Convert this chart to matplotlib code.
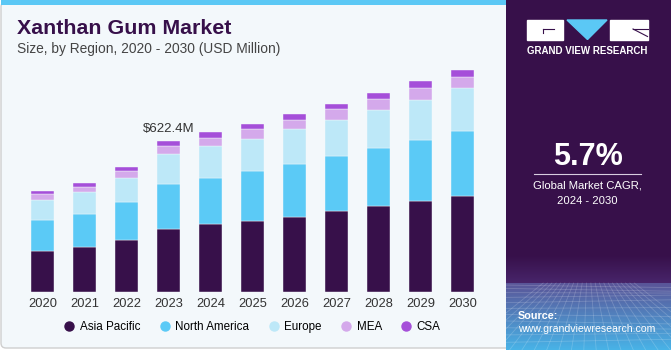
#!/usr/bin/env python3
"""Xanthan gum market size by region, stacked bars with side panel."""

import numpy as np
import matplotlib.pyplot as plt
from matplotlib.patches import FancyBboxPatch, Rectangle, Polygon
from matplotlib.lines import Line2D

plt.rcParams.update({
    "font.family": ["Liberation Sans", "DejaVu Sans"],
    "figure.dpi": 100,
})

years = ["2020", "2021", "2022", "2023", "2024", "2025",
         "2026", "2027", "2028", "2029", "2030"]
regions = ["Asia Pacific", "North America", "Europe", "MEA", "CSA"]
asia_pacific = [171, 188, 216, 260, 280, 292, 310, 334, 354, 377, 397]
north_america = [125, 136, 156, 185, 192, 206, 218, 228, 241, 251, 267]
europe = [85, 89, 100, 123, 130, 134, 144, 146, 155, 165, 176]
mea = [22, 22, 26, 33, 32, 39, 37, 44, 46, 49, 46]
csa = [14, 15, 19, 21.4, 26, 21, 25, 23, 24, 26, 28]
series = [asia_pacific, north_america, europe, mea, csa]
colors = ["#37104a", "#5bcaf6", "#bde8f8", "#d4a9eb", "#a54fd9"]
highlight_year = "2023"
highlight_label = "$622.4M"
cagr = "5.7%"

W, H = 671, 350
fig = plt.figure(figsize=(W / 100, H / 100), dpi=100)
fig.patch.set_facecolor("white")

# background axes holding the left panel frame
bg = fig.add_axes([0, 0, 1, 1], zorder=-5)
bg.set_xlim(0, W)
bg.set_ylim(H, 0)
bg.axis("off")
bg.add_patch(FancyBboxPatch((1, 2), 512, 346, boxstyle="round,pad=0,rounding_size=5",
                            facecolor="#f3f8fb", edgecolor="#cfcfcf", linewidth=1))
bg.add_patch(Rectangle((1, 0), 512, 5, facecolor="#5bc8f5", edgecolor="none"))

# right panel, pixel coordinates (y down)
rp = fig.add_axes([506 / W, 0, (W - 506) / W, 1], zorder=1)
rp.set_xlim(506, W)
rp.set_ylim(H, 0)
rp.axis("off")

purple = np.array([0x37, 0x10, 0x4a]) / 255
ys = np.arange(H)
img = np.zeros((H, 1, 3))
for y in ys:
    if y < 255:
        c = purple
    elif y < 283:
        t = (y - 255) / 28
        c = purple * (1 - t) + np.array([0x48, 0x25, 0x6b]) / 255 * t
    else:
        t = (y - 283) / (H - 283)
        c = (np.array([0x5a, 0x55, 0x98]) / 255 * (1 - t)
             + np.array([0x48, 0xb4, 0xe8]) / 255 * t)
    img[y, 0] = c
rp.imshow(img, aspect="auto", extent=[506, W, H, 0], origin="upper")
rp.set_xlim(506, W)
rp.set_ylim(H, 0)

# faint perspective grid at the bottom
for k in range(1, 12):
    yy = 283 + (H - 283) * (k / 12) ** 1.4
    rp.plot([506, W], [yy, yy + 3 * np.sin(k)], color="white", alpha=0.18, lw=0.6)
for xv in np.linspace(460, 720, 22):
    rp.plot([588 + (xv - 588) * 0.35, xv], [283, H], color="white", alpha=0.18, lw=0.6)

# logo
rp.add_patch(Rectangle((527, 20), 36, 19.5, color="white"))
rp.add_patch(Polygon([(567, 20), (607, 20), (587.5, 39.5)], color="#5bc8f5"))
rp.add_patch(Rectangle((610, 20), 37.5, 19.5, color="white"))
rp.plot([543, 554], [29, 29], color="#37104a", lw=0.8)
rp.plot([543, 543], [29, 33], color="#37104a", lw=0.8)
rp.plot([633, 647.5], [29, 29], color="#37104a", lw=0.8)
rp.plot([633, 647.5], [29, 36.5], color="#37104a", lw=0.8)
rp.text(587.5, 51, "GRAND VIEW RESEARCH", color="white", fontsize=7,
        fontweight="bold", ha="center", va="center")

rp.text(587.5, 157, cagr, color="white", fontsize=22, fontweight="bold",
        ha="center", va="center")
rp.plot([534, 641], [173.5, 173.5], color="#d8cde0", linewidth=0.8)
rp.text(587.5, 186, "Global Market CAGR,", color="white", fontsize=8.1,
        ha="center", va="center")
rp.text(587.5, 201.5, "2024 - 2030", color="white", fontsize=8.1,
        ha="center", va="center")
rp.text(518, 316, "Source:", color="white", fontsize=7.8, fontweight="bold",
        ha="left", va="center")
rp.text(518, 329.5, "www.grandviewresearch.com", color="white", fontsize=7.6,
        ha="left", va="center")

# titles
fig.text(17 / W, 1 - 29 / H, "Xanthan Gum Market", color="#37104a",
         fontsize=15.4, fontweight="bold", ha="left", va="center")
fig.text(17 / W, 1 - 49 / H, "Size, by Region, 2020 - 2030 (USD Million)",
         color="#444444", fontsize=9.9, ha="left", va="center")

# bar chart
spacing = 42.0
c0 = 42.7
x0 = c0 - 0.6 * spacing
base = 292.3
top_px = 60.0
scale = 622.4 / 151.3
ax = fig.add_axes([x0 / W, (H - base) / H, 11.2 * spacing / W, (base - top_px) / H],
                  zorder=2)
ax.set_facecolor("none")
x = np.arange(len(years))
bottom = np.zeros(len(years))
for name, vals, col in zip(regions, series, colors):
    vals = np.array(vals, dtype=float)
    ax.bar(x, vals, 0.55, bottom=bottom, color=col, edgecolor="#f3f8fb",
           linewidth=0.3, label=name, zorder=2)
    bottom += vals
ax.set_xlim(-0.6, 10.6)
ax.set_ylim(0, (base - top_px) * scale)
ax.set_xticks(x)
ax.set_xticklabels(years, fontsize=9.3, color="#333333")
ax.tick_params(axis="x", length=0, pad=4)
ax.set_yticks([])
for s in ax.spines.values():
    s.set_visible(False)

hi = years.index(highlight_year)
ax.text(hi, bottom[hi] + 6 * scale, highlight_label, ha="center", va="bottom",
        fontsize=9.5, color="#333333")

handles = [Line2D([], [], marker="o", linestyle="none", markersize=6.5,
                  markerfacecolor=c, markeredgecolor=c) for c in colors]
fig.legend(handles, regions, loc="center", ncol=5, frameon=False,
           bbox_to_anchor=(252 / W, 1 - 327 / H), fontsize=8.4,
           handletextpad=0.4, columnspacing=1.6, handlelength=1.0)

fig.savefig("out.png", dpi=100, facecolor=fig.get_facecolor())
